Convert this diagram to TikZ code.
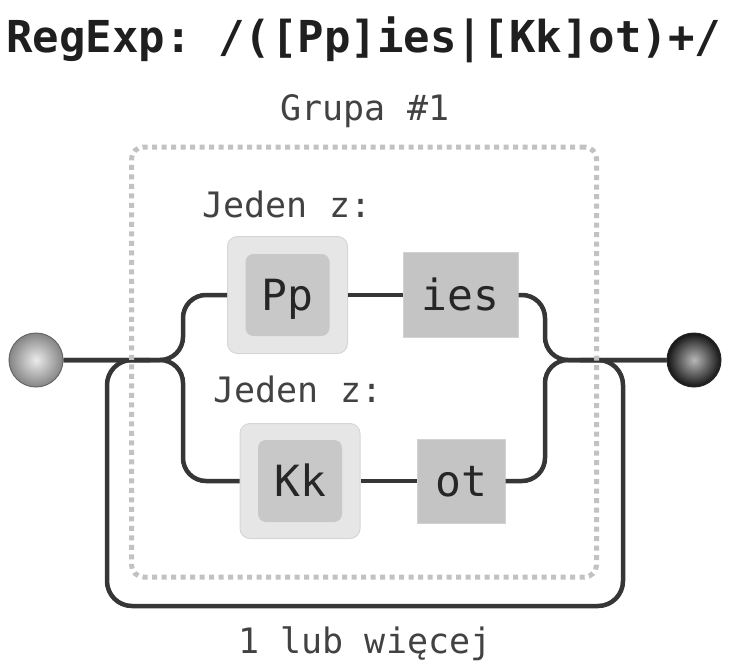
\documentclass[tikz,border=0pt]{standalone}
\usepackage{fontspec}
\setmonofont{DejaVu Sans Mono}
\definecolor{wirecol}{HTML}{363636}
\definecolor{labelcol}{HTML}{424242}
\definecolor{anyfill}{HTML}{E6E6E6}
\definecolor{anyedge}{HTML}{D6D6D6}
\definecolor{charfill}{HTML}{C8C8C8}
\definecolor{litfill}{HTML}{C4C4C4}
\definecolor{litedge}{HTML}{D2D2D2}
\definecolor{dotcol}{HTML}{C2C2C2}
\begin{document}
\begin{tikzpicture}[x=1pt,y=-1pt,
  wire/.style={line width=4.5pt,draw=wirecol},
  lbl/.style={font=\fontsize{35}{40}\selectfont\ttfamily,text=labelcol,inner sep=0pt},
  boxtext/.style={font=\fontsize{43}{48}\selectfont\ttfamily,text=black!85,text height=31pt,text depth=0pt},
  anybox/.style={draw=anyedge,fill=anyfill,line width=1pt,rounded corners=10pt},
  charset/.style={fill=charfill,rounded corners=8pt,boxtext},
  literal/.style={draw=litedge,fill=litfill,line width=1pt,boxtext},
  group/.style={draw=dotcol,line width=5pt,dash pattern=on 5pt off 4.5pt,rounded corners=12pt},
  terminal/.style={circle,minimum size=54pt,inner sep=0pt,line width=1pt}]
  \useasboundingbox (0,0) rectangle (734,662);
  \node[font=\fontsize{44}{50}\selectfont\ttfamily\bfseries,text=black!88,anchor=base west,inner sep=0pt]
    (title) at (6,52) {RegExp: /([Pp]ies|[Kk]ot)+/};
  % start and end
  \node[terminal,draw=black!60,shading=radial,inner color=black!8,outer color=black!48] (start) at (36,360) {};
  \node[terminal,draw=black!85,shading=radial,inner color=black!28,outer color=black!92] (stop) at (694,360) {};
  \coordinate (loopin) at (150,360);
  \coordinate (loopout) at (580,360);
  % upper alternative
  \node[anybox,minimum width=120pt,minimum height=117pt] (PpAny) at (287.5,295) {};
  \node[charset,minimum width=84pt,minimum height=82pt] (Pp) at (287.5,295) {Pp};
  \node[literal,minimum width=115pt,minimum height=85pt] (ies) at (460.5,295) {ies};
  \node[lbl,anchor=base] (oneofA) at (287,217) {Jeden z:};
  % lower alternative
  \node[anybox,minimum width=120pt,minimum height=115pt] (KkAny) at (300,481) {};
  \node[charset,minimum width=84pt,minimum height=82pt] (Kk) at (300,481) {Kk};
  \node[literal,minimum width=88pt,minimum height=84pt] (ot) at (461,481) {ot};
  \node[lbl,anchor=base] (oneofB) at (298,402) {Jeden z:};
  % wires
  \draw[wire,rounded corners=25pt] (loopout) -- (623,360) -- (623,606) -- (107,606) -- (107,360) -- (loopin);
  \draw[wire,rounded corners=23pt] (start.east) -- (183,360) -- (183,295) -- (PpAny.west);
  \draw[wire,rounded corners=23pt] (start.east) -- (183,360) -- (183,481) -- (KkAny.west);
  \draw[wire] (PpAny.east) -- (ies.west);
  \draw[wire] (KkAny.east) -- (ot.west);
  \draw[wire,rounded corners=23pt] (ies.east) -- (545,295) -- (545,360) -- (stop.west);
  \draw[wire,rounded corners=23pt] (ot.east) -- (545,481) -- (545,360) -- (stop.west);
  % group
  \node[group,minimum width=465pt,minimum height=430pt] (grp) at (364,362) {};
  \node[lbl,anchor=base] (grplbl) at (365,120) {Grupa \#1};
  \node[lbl,anchor=base] (repeat) at (365,653) {1 lub więcej};
\end{tikzpicture}
\end{document}
